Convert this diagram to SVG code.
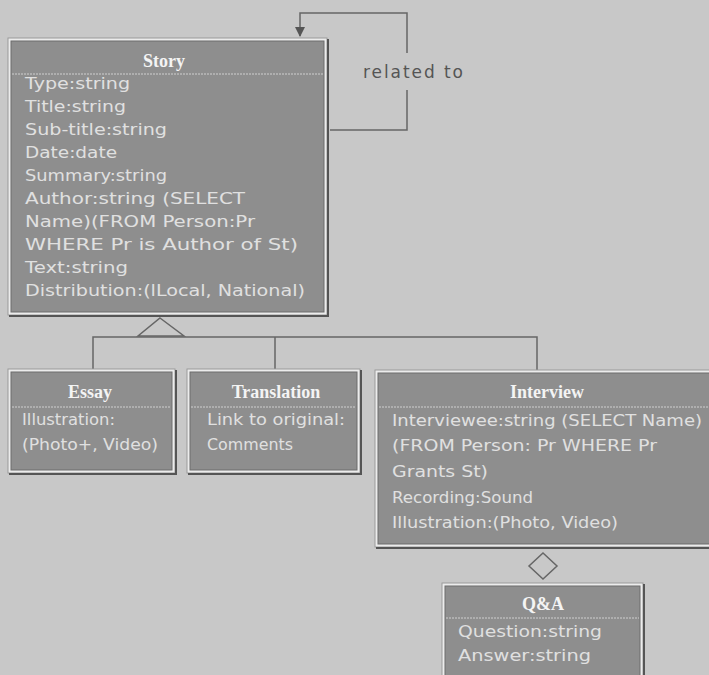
<svg xmlns="http://www.w3.org/2000/svg" width="709" height="675" viewBox="0 0 709 675">
<defs>
<style>
.frame{fill:#ececec;stroke:#9a9a9a;stroke-width:1}
.shadow{fill:none;stroke:#555;stroke-width:2}
.body{fill:#8e8e8e;stroke:#6c6c6c;stroke-width:1}
.sep{stroke:#cfcfcf;stroke-width:1;stroke-dasharray:2 1}
.title{font-family:"Liberation Serif","Times New Roman",serif;font-weight:bold;font-size:18px;fill:#f4f4f4;text-anchor:middle}
.attr{font-family:"DejaVu Sans","Liberation Sans",sans-serif;font-size:16px;fill:#e0e0e0}
.line{fill:none;stroke:#666;stroke-width:1.5}
.lbl{font-family:"DejaVu Sans","Liberation Sans",sans-serif;font-size:17px;fill:#555}
</style>
<marker id="arr" markerWidth="10" markerHeight="10" refX="9" refY="5" orient="auto" markerUnits="userSpaceOnUse">
<path d="M0,0 L10,5 L0,10 z" fill="#555"/>
</marker>
</defs>
<rect x="0" y="0" width="709" height="675" fill="#c8c8c8"/>

<g id="connectors">
<path class="line" d="M330,130 H407 V90"/>
<path class="line" d="M407,53 V13 H300 V36" marker-end="url(#arr)"/>
<text class="lbl" x="363" y="78" textLength="100" lengthAdjust="spacing">related to</text>
<polygon class="line" points="160,318 184,336 138,336"/>
<path class="line" d="M93,369 V337 H537 V370 M275,337 V369"/>
<polygon class="line" points="543,553 557,566 543,579 529,566"/>
</g>

<g id="story">
<rect class="frame" x="8" y="38" width="319" height="277"/>
<path class="shadow" d="M328,39 V316 H9"/>
<rect class="body" x="11" y="41" width="313" height="271"/>
<line class="sep" x1="12" y1="74" x2="323" y2="74"/>
<text class="title" x="164" y="67">Story</text>
<text class="attr" x="25" y="89" textLength="105" lengthAdjust="spacingAndGlyphs">Type:string</text>
<text class="attr" x="25" y="112" textLength="101" lengthAdjust="spacingAndGlyphs">Title:string</text>
<text class="attr" x="25" y="135" textLength="142" lengthAdjust="spacingAndGlyphs">Sub-title:string</text>
<text class="attr" x="25" y="158" textLength="92" lengthAdjust="spacingAndGlyphs">Date:date</text>
<text class="attr" x="25" y="181" textLength="142" lengthAdjust="spacingAndGlyphs">Summary:string</text>
<text class="attr" x="25" y="204" textLength="220" lengthAdjust="spacingAndGlyphs">Author:string (SELECT</text>
<text class="attr" x="25" y="227" textLength="230" lengthAdjust="spacingAndGlyphs">Name)(FROM Person:Pr</text>
<text class="attr" x="25" y="250" textLength="273" lengthAdjust="spacingAndGlyphs">WHERE Pr is Author of St)</text>
<text class="attr" x="25" y="273" textLength="103" lengthAdjust="spacingAndGlyphs">Text:string</text>
<text class="attr" x="25" y="296" textLength="280" lengthAdjust="spacingAndGlyphs">Distribution:(lLocal, National)</text>
</g>

<g id="essay">
<rect class="frame" x="8" y="369" width="167" height="104"/>
<path class="shadow" d="M176,370 V474 H9"/>
<rect class="body" x="11" y="372" width="161" height="98"/>
<line class="sep" x1="12" y1="407" x2="171" y2="407"/>
<text class="title" x="90" y="398">Essay</text>
<text class="attr" x="22" y="425" textLength="93" lengthAdjust="spacingAndGlyphs">Illustration:</text>
<text class="attr" x="22" y="450" textLength="136" lengthAdjust="spacingAndGlyphs">(Photo+, Video)</text>
</g>

<g id="translation">
<rect class="frame" x="187" y="369" width="173" height="104"/>
<path class="shadow" d="M361,370 V474 H188"/>
<rect class="body" x="190" y="372" width="167" height="98"/>
<line class="sep" x1="191" y1="407" x2="356" y2="407"/>
<text class="title" x="276" y="398">Translation</text>
<text class="attr" x="207" y="425" textLength="138" lengthAdjust="spacingAndGlyphs">Link to original:</text>
<text class="attr" x="207" y="450" textLength="86" lengthAdjust="spacingAndGlyphs">Comments</text>
</g>

<g id="interview">
<rect class="frame" x="375" y="370" width="340" height="177"/>
<path class="shadow" d="M376,548 H714"/>
<rect class="body" x="378" y="373" width="334" height="171"/>
<line class="sep" x1="379" y1="407" x2="711" y2="407"/>
<text class="title" x="547" y="398">Interview</text>
<text class="attr" x="392" y="426" textLength="310" lengthAdjust="spacingAndGlyphs">Interviewee:string (SELECT Name)</text>
<text class="attr" x="392" y="451" textLength="265" lengthAdjust="spacingAndGlyphs">(FROM Person: Pr WHERE Pr</text>
<text class="attr" x="392" y="477" textLength="96" lengthAdjust="spacingAndGlyphs">Grants St)</text>
<text class="attr" x="392" y="503" textLength="141" lengthAdjust="spacingAndGlyphs">Recording:Sound</text>
<text class="attr" x="392" y="528" textLength="226" lengthAdjust="spacingAndGlyphs">Illustration:(Photo, Video)</text>
</g>

<g id="qa">
<rect class="frame" x="442" y="583" width="201" height="100"/>
<path class="shadow" d="M644,584 V684"/>
<rect class="body" x="445" y="586" width="195" height="94"/>
<line class="sep" x1="446" y1="618" x2="639" y2="618"/>
<text class="title" x="543" y="610">Q&amp;A</text>
<text class="attr" x="458" y="637" textLength="144" lengthAdjust="spacingAndGlyphs">Question:string</text>
<text class="attr" x="458" y="661" textLength="133" lengthAdjust="spacingAndGlyphs">Answer:string</text>
</g>
</svg>
